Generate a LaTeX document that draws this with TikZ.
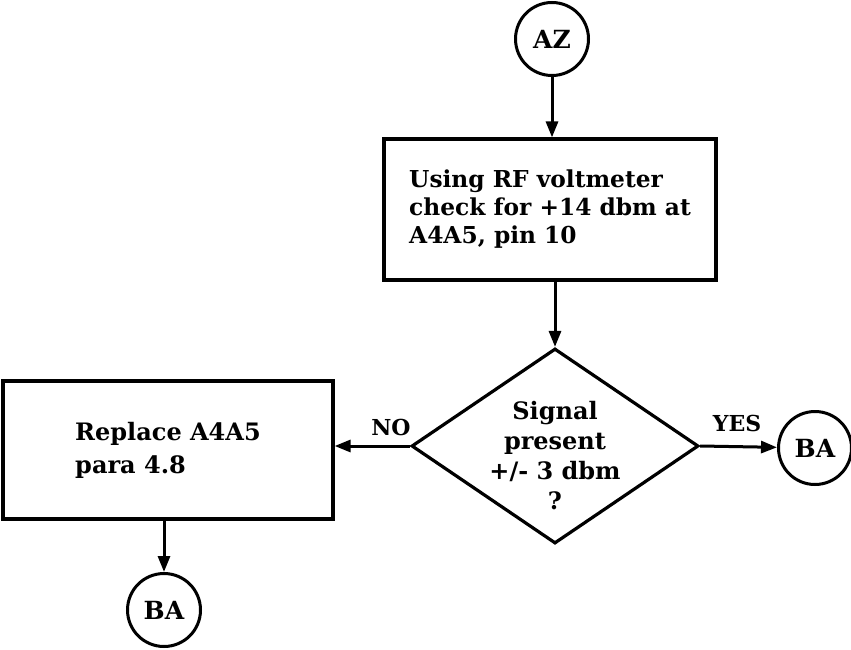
\documentclass[tikz,border=0pt]{standalone}
\usepackage{fontspec}
\setmainfont{DejaVu Serif}
\usetikzlibrary{shapes.geometric,arrows.meta}
\begin{document}
\begin{tikzpicture}[x=1pt,y=-1pt,
  txt/.style={font=\bfseries\fontsize{23.3}{28}\selectfont},
  small/.style={font=\bfseries\fontsize{22}{24}\selectfont},
  conn/.style={draw, circle, line width=3pt, minimum size=73pt, inner sep=0pt, font=\bfseries\fontsize{25}{27}\selectfont},
  proc/.style={draw, rectangle, line width=3.2pt, inner sep=0pt, align=left, txt},
  dec/.style={draw, diamond, line width=3.2pt, inner sep=0pt, minimum width=287pt, minimum height=195pt, aspect=1.47, align=center, txt},
  flow/.style={line width=3pt, -{Triangle[length=16pt,width=12pt]}},
  lbl/.style={inner sep=0pt, small}]
\useasboundingbox (0,0) rectangle (851,650);
\node[conn] (az) at (552,39) {AZ};
\node[proc, minimum width=332pt, minimum height=141pt] (b1) at (550,209.5)
  {Using RF voltmeter\\check for +14 dbm at\\A4A5, pin 10};
\node[dec] (dec) at (555,446) {\smash{\raisebox{-19pt}{\fontsize{24}{30}\selectfont\begin{tabular}{@{}c@{}}Signal\\present\\+/- 3 dbm\\?\end{tabular}}}};
\node[proc, minimum width=330pt, minimum height=138pt, font=\bfseries\fontsize{24}{33}\selectfont] (b2) at (168,450)
  {Replace A4A5\\para 4.8};
\node[conn] (ba1) at (815,448) {BA};
\node[conn] (ba2) at (164,610) {BA};
\node[lbl] (no) at (391,427) {NO};
\node[lbl] (yes) at (737,423) {YES};
\draw[flow] (az) -- (az |- b1.north);
\draw[flow] (b1.south -| dec.north) -- (dec.north);
\draw[flow] (dec.west) -- (dec.west -| b2.east);
\draw[flow] (dec.east) -- (ba1);
\draw[flow] (ba2 |- b2.south) -- (ba2);
\end{tikzpicture}
\end{document}
